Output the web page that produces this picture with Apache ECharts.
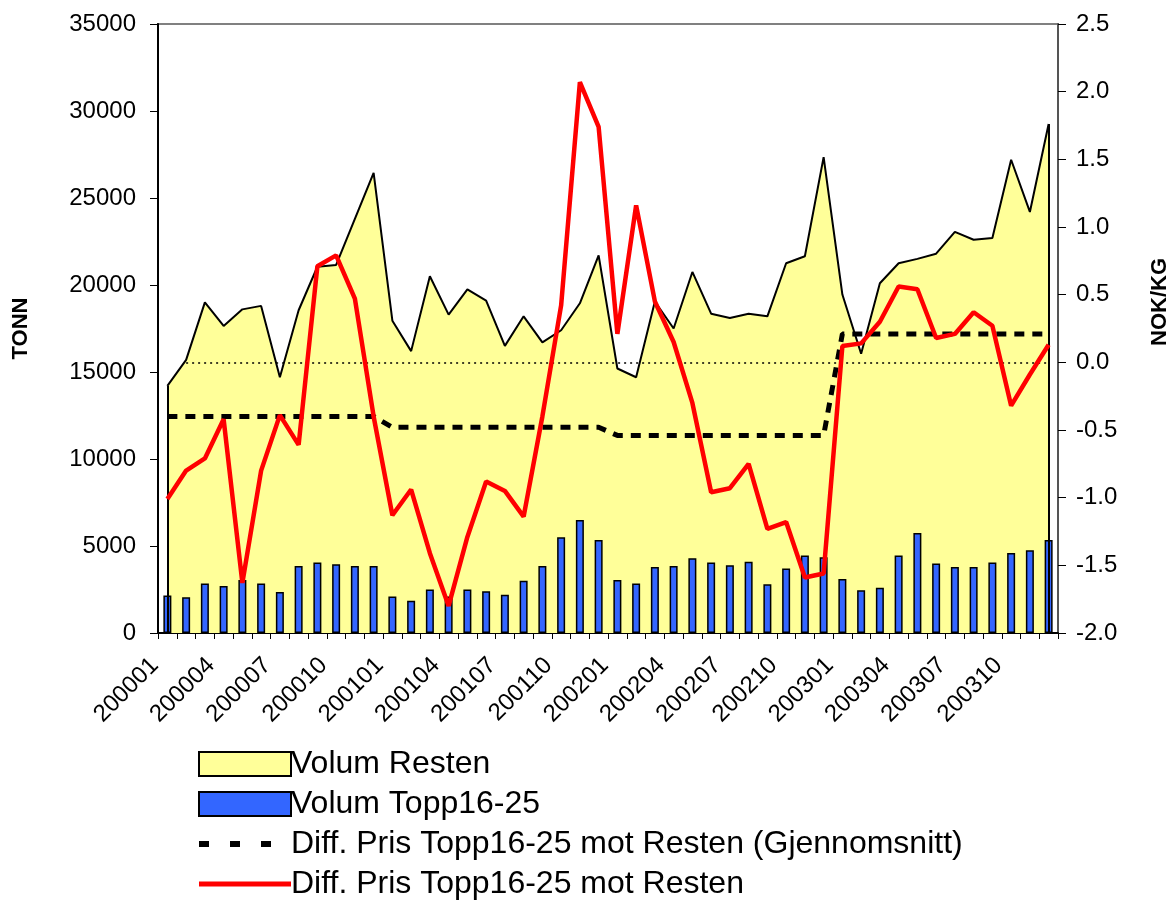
<!DOCTYPE html>
<html>
<head>
<meta charset="utf-8">
<script src="https://cdn.jsdelivr.net/npm/echarts@6/dist/echarts.min.js"></script>
<style>
  html, body { margin: 0; padding: 0; background: #fff; }
  #chart { width: 1175px; height: 902px; }
</style>
</head>
<body>
<div id="chart"></div>
<script>
  const months = [
    '200001', '200002', '200003', '200004', '200005', '200006', '200007', '200008', '200009', '200010', '200011', '200012',
    '200101', '200102', '200103', '200104', '200105', '200106', '200107', '200108', '200109', '200110', '200111', '200112',
    '200201', '200202', '200203', '200204', '200205', '200206', '200207', '200208', '200209', '200210', '200211', '200212',
    '200301', '200302', '200303', '200304', '200305', '200306', '200307', '200308', '200309', '200310', '200311', '200312'
  ]
  // TONN
  const volumResten = [
    14200, 15700, 19000, 17650, 18600, 18800, 14700, 18550, 21050, 21150, 23800, 26450,
    17950, 16200, 20500, 18300, 19750, 19100, 16500, 18200, 16700, 17400, 18950, 21700,
    15200, 14700, 19050, 17500, 20750, 18350, 18100, 18350, 18200, 21250, 21650, 27350,
    19450, 16050, 20100, 21250, 21500, 21800, 23050, 22600, 22700, 27200, 24200, 29250
  ]
  const volumTopp = [
    2150, 2050, 2850, 2700, 3050, 2850, 2350, 3850, 4050, 3950, 3850, 3850,
    2100, 1850, 2500, 2100, 2500, 2400, 2200, 3000, 3850, 5500, 6500, 5350,
    3050, 2850, 3800, 3850, 4300, 4050, 3900, 4100, 2800, 3700, 4450, 4350,
    3100, 2450, 2600, 4450, 5750, 4000, 3800, 3800, 4050, 4600, 4750, 5350
  ]
  // NOK/KG
  const diffSnitt = [
    -0.40, -0.40, -0.40, -0.40, -0.40, -0.40, -0.40, -0.40, -0.40, -0.40, -0.40, -0.40,
    -0.48, -0.48, -0.48, -0.48, -0.48, -0.48, -0.48, -0.48, -0.48, -0.48, -0.48, -0.48,
    -0.54, -0.54, -0.54, -0.54, -0.54, -0.54, -0.54, -0.54, -0.54, -0.54, -0.54, -0.54,
    0.21, 0.21, 0.21, 0.21, 0.21, 0.21, 0.21, 0.21, 0.21, 0.21, 0.21, 0.21
  ]
  const diffPris = [
    -1.01, -0.80, -0.71, -0.42, -1.63, -0.80, -0.39, -0.61, 0.71, 0.79, 0.47, -0.40,
    -1.13, -0.94, -1.41, -1.80, -1.29, -0.88, -0.95, -1.14, -0.40, 0.42, 2.07, 1.74,
    0.21, 1.16, 0.45, 0.15, -0.30, -0.96, -0.93, -0.75, -1.23, -1.18, -1.59, -1.56,
    0.12, 0.14, 0.30, 0.56, 0.54, 0.18, 0.21, 0.37, 0.27, -0.32, -0.09, 0.13
  ]

  const font = 'Arial, "Liberation Sans", sans-serif'
  const last = months.length - 1

  const chart = echarts.init(document.getElementById('chart'))
  chart.setOption({
    animation: false,
    textStyle: { fontFamily: font, color: '#000' },
    grid: {
      left: 158, right: 117, top: 24, bottom: 269,
      show: true, backgroundColor: '#fff', borderColor: '#808080', borderWidth: 2
    },
    legend: {
      orient: 'vertical',
      left: 196,
      top: 748,
      padding: 0,
      itemWidth: 92,
      itemHeight: 24,
      itemGap: 8,
      textStyle: { fontSize: 32, lineHeight: 32, color: '#000', fontFamily: font, padding: [0, 0, 0, -5] },
      data: [
        { name: 'Volum Resten', icon: 'rect', itemStyle: { color: '#FFFF99', borderColor: '#000', borderWidth: 2 } },
        { name: 'Volum Topp16-25', icon: 'rect', itemStyle: { color: '#3366FF', borderColor: '#000', borderWidth: 2 } },
        {
          name: 'Diff. Pris Topp16-25 mot Resten (Gjennomsnitt)',
          itemStyle: { opacity: 0 },
          lineStyle: { width: 6, type: [10, 21] }
        },
        {
          name: 'Diff. Pris Topp16-25 mot Resten',
          itemStyle: { opacity: 0 },
          lineStyle: { width: 5 }
        }
      ]
    },
    xAxis: {
      type: 'category',
      data: months,
      boundaryGap: true,
      axisLine: { lineStyle: { color: '#000', width: 2 } },
      axisTick: { show: true, interval: 0, length: 6, lineStyle: { color: '#000' } },
      axisLabel: { interval: 2, rotate: 45, fontSize: 24, color: '#000', margin: 16, padding: [0, 18, 0, 0] },
      splitLine: { show: false }
    },
    yAxis: [
      {
        type: 'value',
        min: 0, max: 35000, interval: 5000,
        name: 'TONN',
        nameLocation: 'middle',
        nameRotate: 90,
        nameGap: 126,
        nameTextStyle: { fontSize: 22, fontWeight: 'bold', color: '#000' },
        axisLine: { show: true, lineStyle: { color: '#000', width: 2 } },
        axisTick: { show: true, length: 8, lineStyle: { color: '#000' } },
        axisLabel: { fontSize: 24, color: '#000', margin: 22, formatter: v => String(v) },
        splitLine: { show: false }
      },
      {
        type: 'value',
        min: -2.0, max: 2.5, interval: 0.5,
        position: 'right',
        axisLine: { show: true, lineStyle: { color: '#555', width: 2 } },
        axisTick: { show: true, length: 8, lineStyle: { color: '#000' } },
        axisLabel: { fontSize: 24, color: '#000', margin: 18, formatter: v => v.toFixed(1) },
        splitLine: { show: false }
      }
    ],
    graphic: [
      {
        type: 'text',
        x: 1160, y: 302,
        rotation: Math.PI / 2,
        style: {
          text: 'NOK/KG', fontSize: 22, fontWeight: 'bold', fill: '#000', fontFamily: font,
          align: 'center', verticalAlign: 'middle'
        }
      }
    ],
    series: [
      {
        name: 'Volum Resten',
        type: 'line',
        yAxisIndex: 0,
        data: volumResten,
        symbol: 'none',
        lineStyle: { color: '#000', width: 2 },
        itemStyle: { color: '#FFFF99' },
        areaStyle: { color: '#FFFF99', opacity: 1 },
        z: 1,
        markLine: {
          silent: true,
          symbol: 'none',
          label: { show: false },
          lineStyle: { color: '#000', width: 2, type: 'solid' },
          data: [
            [{ coord: [months[0], 0] }, { coord: [months[0], volumResten[0]] }],
            [{ coord: [months[last], 0] }, { coord: [months[last], volumResten[last]] }]
          ]
        }
      },
      {
        name: 'Volum Topp16-25',
        type: 'bar',
        yAxisIndex: 0,
        data: volumTopp,
        barWidth: 8,
        itemStyle: { color: '#3366FF', borderColor: '#000', borderWidth: 1.5 },
        z: 2
      },
      {
        name: 'Diff. Pris Topp16-25 mot Resten (Gjennomsnitt)',
        type: 'line',
        yAxisIndex: 1,
        data: diffSnitt,
        symbol: 'none',
        itemStyle: { color: '#000' },
        lineStyle: { color: '#000', width: 5, type: [10, 8] },
        z: 4
      },
      {
        name: 'Diff. Pris Topp16-25 mot Resten',
        type: 'line',
        yAxisIndex: 1,
        data: diffPris,
        symbol: 'none',
        itemStyle: { color: '#FF0000' },
        lineStyle: { color: '#FF0000', width: 4.5 },
        z: 5,
        markLine: {
          silent: true,
          symbol: 'none',
          label: { show: false },
          z: 3,
          lineStyle: { color: '#000', width: 1.5, type: [2, 4] },
          data: [
            [{ coord: [months[1], 0] }, { coord: [months[last], 0] }]
          ]
        }
      }
    ]
  })
</script>
</body>
</html>
